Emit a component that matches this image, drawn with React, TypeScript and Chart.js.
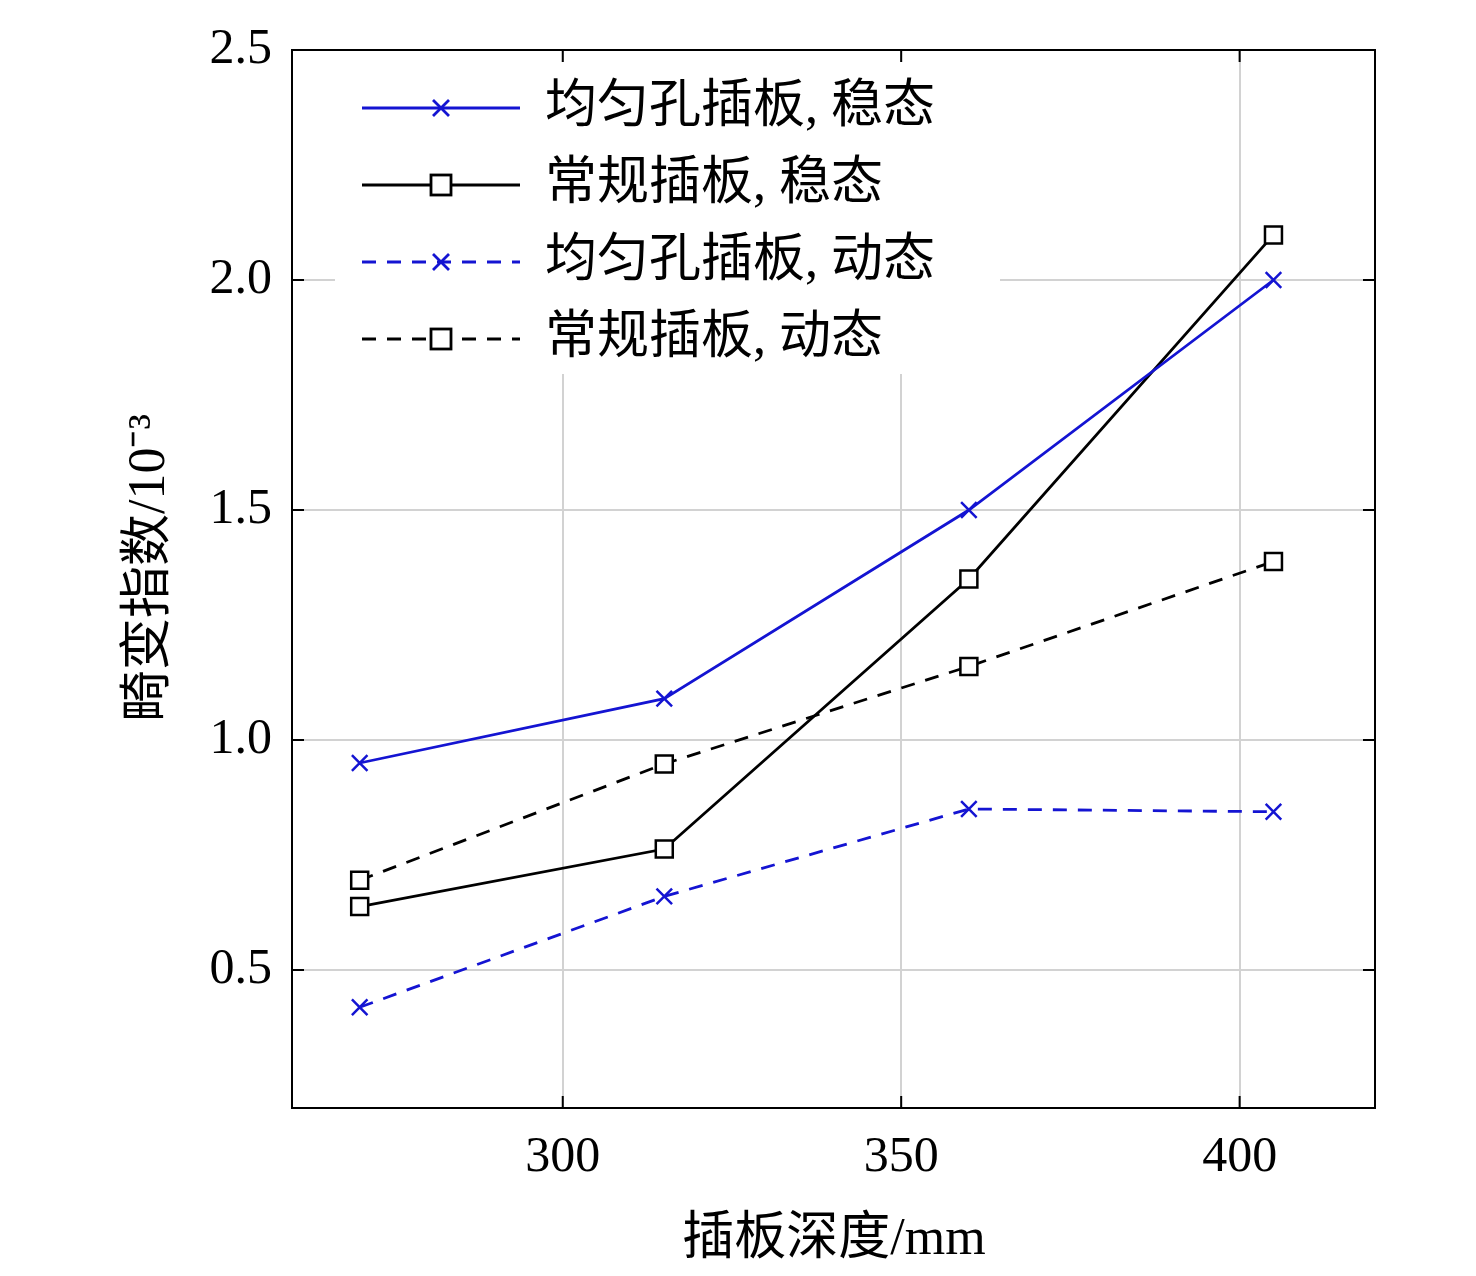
import React, { useEffect, useRef } from "react";
import { Chart, registerables } from "chart.js";
Chart.register(...registerables);

const depths = [270, 315, 360, 405];
const uniformSteady = [0.95, 1.09, 1.5, 2.0];
const normalSteady = [0.638, 0.763, 1.35, 2.098];
const uniformDynamic = [0.419, 0.66, 0.85, 0.844];
const normalDynamic = [0.695, 0.948, 1.16, 1.388];
const yTicks = [0.5, 1.0, 1.5, 2.0, 2.5];
const xTicks = [300, 350, 400];
const seriesNames = ["均匀孔插板, 稳态", "常规插板, 稳态", "均匀孔插板, 动态", "常规插板, 动态"];
const xTitle = "插板深度/mm";
const yTitle = "畸变指数/10⁻³";

const BLUE = "#1414d2";
const FONT = "'Liberation Serif', 'Noto Sans CJK SC', serif";

const mk = (i: number, data: number[]) => {
  const blue = i === 0 || i === 2;
  return {
    label: seriesNames[i],
    data: depths.map((x, k) => ({ x, y: data[k] })),
    borderColor: blue ? BLUE : "#000",
    backgroundColor: blue ? BLUE : "#fff",
    pointBackgroundColor: blue ? BLUE : "#fff",
    pointBorderColor: blue ? BLUE : "#000",
    pointStyle: blue ? "crossRot" : "rect",
    pointRadius: blue ? 11 : 12,
    pointBorderWidth: 2.5,
    borderWidth: 2.8,
    borderDash: i >= 2 ? [14, 11] : [],
  };
};

const deco = {
  id: "deco",
  afterDatasetsDraw(chart: any) {
    const { ctx, chartArea: a, scales } = chart;
    ctx.save();
    ctx.fillStyle = "#fff";
    ctx.fillRect(335, 62, 665, 312);
    chart.data.datasets.forEach((ds: any, i: number) => {
      const y = 108 + i * 77;
      ctx.strokeStyle = ds.borderColor;
      ctx.lineWidth = 2.8;
      ctx.setLineDash(ds.borderDash);
      ctx.beginPath();
      ctx.moveTo(362, y);
      ctx.lineTo(520, y);
      ctx.stroke();
      ctx.setLineDash([]);
      if (ds.pointStyle === "rect") {
        ctx.fillStyle = "#fff";
        ctx.fillRect(431, y - 10, 20, 20);
        ctx.strokeRect(431, y - 10, 20, 20);
      } else {
        ctx.beginPath();
        ctx.moveTo(433, y - 8); ctx.lineTo(449, y + 8);
        ctx.moveTo(449, y - 8); ctx.lineTo(433, y + 8);
        ctx.stroke();
      }
      ctx.fillStyle = "#000";
      ctx.font = `52px ${FONT}`;
      ctx.textBaseline = "middle";
      ctx.textAlign = "left";
      ctx.fillText(ds.label, 545, y);
    });
    ctx.strokeStyle = "#000";
    ctx.lineWidth = 2;
    ctx.strokeRect(a.left, a.top, a.right - a.left, a.bottom - a.top);
    const L = 12;
    ctx.beginPath();
    yTicks.forEach((v) => {
      const p = scales.y.getPixelForValue(v);
      ctx.moveTo(a.left, p); ctx.lineTo(a.left + L, p);
      ctx.moveTo(a.right, p); ctx.lineTo(a.right - L, p);
    });
    xTicks.forEach((v) => {
      const p = scales.x.getPixelForValue(v);
      ctx.moveTo(p, a.bottom); ctx.lineTo(p, a.bottom - L);
      ctx.moveTo(p, a.top); ctx.lineTo(p, a.top + L);
    });
    ctx.stroke();
    ctx.fillStyle = "#000";
    ctx.font = `52px ${FONT}`;
    ctx.textAlign = "center";
    ctx.textBaseline = "middle";
    ctx.fillText(xTitle, 834, 1240);
    ctx.translate(150, 568);
    ctx.rotate(-Math.PI / 2);
    ctx.fillText(yTitle, 0, 0);
    ctx.restore();
  },
};

export default function App() {
  const ref = useRef<HTMLCanvasElement>(null);
  useEffect(() => {
    const chart = new Chart(ref.current!, {
      type: "line",
      data: {
        datasets: [
          mk(0, uniformSteady),
          mk(1, normalSteady),
          mk(2, uniformDynamic),
          mk(3, normalDynamic),
        ] as any,
      },
      options: {
        animation: false,
        responsive: false,
        devicePixelRatio: 1,
        layout: { padding: { left: 0, top: 3, right: 101, bottom: 0 } },
        plugins: { legend: { display: false }, tooltip: { enabled: false } },
        scales: {
          x: {
            type: "linear",
            min: 260,
            max: 420,
            afterFit: (s: any) => { s.height = 168; },
            afterBuildTicks: (s: any) => { s.ticks = xTicks.map((v) => ({ value: v })); },
            grid: { color: "#d2d2d2", lineWidth: 2, drawTicks: false },
            border: { display: false },
            ticks: { color: "#000", padding: 20, font: { family: FONT, size: 50 } },
          },
          y: {
            type: "linear",
            min: 0.2,
            max: 2.5,
            afterFit: (s: any) => { s.width = 292; },
            afterBuildTicks: (s: any) => { s.ticks = yTicks.map((v) => ({ value: v })); },
            grid: { color: "#d2d2d2", lineWidth: 2, drawTicks: false },
            border: { display: false },
            ticks: {
              color: "#000",
              padding: 20,
              font: { family: FONT, size: 50 },
              callback: (v: any) => Number(v).toFixed(1),
            },
          },
        },
      },
      plugins: [deco],
    });
    return () => chart.destroy();
  }, []);
  return (
    <div style={{ position: "absolute", left: 0, top: 0, width: 1476, height: 1276, background: "#fff" }}>
      <canvas ref={ref} width={1476} height={1276} />
    </div>
  );
}
